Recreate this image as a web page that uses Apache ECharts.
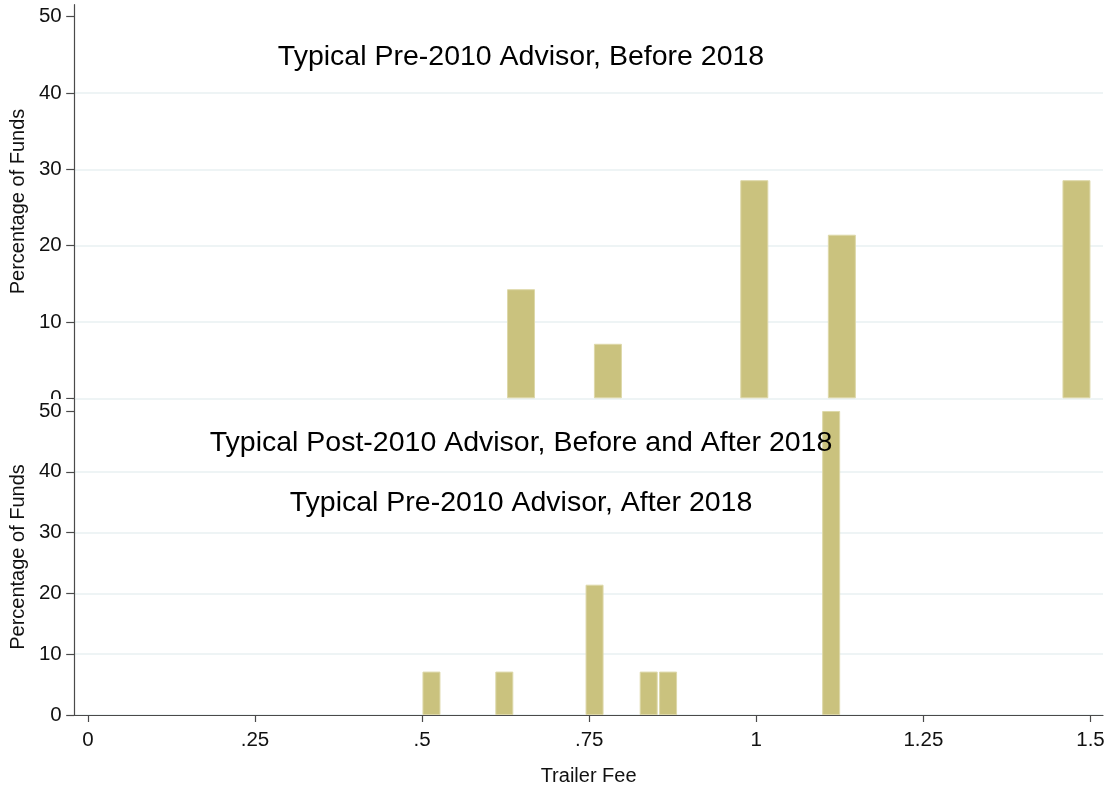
<!DOCTYPE html>
<html>
<head>
<meta charset="utf-8">
<script src="https://cdn.jsdelivr.net/npm/echarts@6/dist/echarts.min.js"></script>
<style>
  html, body { margin: 0; padding: 0; background: #fff; }
  #chart { width: 1110px; height: 791px; }
</style>
</head>
<body>
<div id="chart"></div>
<script>
// histogram bars: trailer fee (bin centre) and percentage of funds
const preBeforeFee = [0.648, 0.778, 0.997, 1.128, 1.479];
const preBeforePct = [14.29, 7.14, 28.57, 21.43, 28.57];

const afterFee = [0.514, 0.623, 0.758, 0.839, 0.868, 1.112];
const afterPct = [7.14, 7.14, 21.43, 7.14, 7.14, 50];

const yTicks = [0, 10, 20, 30, 40, 50];
const xTicks = [0, 0.25, 0.5, 0.75, 1, 1.25, 1.5];
const xTickLabels = ['0', '.25', '.5', '.75', '1', '1.25', '1.5'];

const topTitle = 'Typical Pre-2010 Advisor, Before 2018';
const bottomTitles = [
  'Typical Post-2010 Advisor, Before and After 2018',
  'Typical Pre-2010 Advisor, After 2018'
];

const FONT = '"Liberation Sans", Arial, sans-serif';
const BAR = '#cac27e';
const BAR_EDGE = '#ddd8a9';
const AXIS = '#4a4a4a';
const GRID = '#e9f0f2';

const chart = echarts.init(document.getElementById('chart'), null, { renderer: 'canvas' });

function yAxisFor(gridIndex, max, z) {
  return {
    type: 'value',
    gridIndex,
    min: 0,
    max,
    interval: 10,
    z,
    name: 'Percentage of Funds',
    nameLocation: 'middle',
    nameGap: 42,
    nameTextStyle: { fontFamily: FONT, fontSize: 20, color: '#111' },
    axisLine: { show: true, onZero: false, lineStyle: { color: AXIS, width: 1.2 } },
    axisTick: { show: true, length: 8, customValues: yTicks, lineStyle: { color: AXIS, width: 1.2 } },
    axisLabel: {
      customValues: yTicks,
      margin: 12.5,
      fontFamily: FONT,
      fontSize: 20.5,
      color: '#111'
    },
    splitLine: { show: true, showMaxLine: false, lineStyle: { color: GRID, width: 1.5 } }
  };
}

const xMin = -0.0205;
const xMax = 1.5187;

const option = {
  backgroundColor: '#fff',
  animation: false,
  grid: [
    { left: 73, right: 7, top: 4.7, bottom: 392.7 },
    { left: 73, right: 7, top: 399, bottom: 76 }
  ],
  xAxis: [
    {
      type: 'value',
      gridIndex: 0,
      min: xMin,
      max: xMax,
      show: false
    },
    {
      type: 'value',
      gridIndex: 1,
      min: xMin,
      max: xMax,
      z: 1.5,
      name: 'Trailer Fee',
      nameLocation: 'middle',
      nameGap: 51,
      nameTextStyle: { fontFamily: FONT, fontSize: 20, color: '#111' },
      axisLine: { show: true, onZero: false, lineStyle: { color: AXIS, width: 1.2 } },
      axisTick: { show: true, length: 7, customValues: xTicks, lineStyle: { color: AXIS, width: 1.2 } },
      axisLabel: {
        customValues: xTicks,
        margin: 15,
        fontFamily: FONT,
        fontSize: 20.5,
        color: '#111',
        formatter: v => xTickLabels[xTicks.indexOf(v)] ?? String(v)
      },
      splitLine: { show: false }
    }
  ],
  yAxis: [
    yAxisFor(0, 51.56, 0),
    yAxisFor(1, 51.97, 1.5)
  ],
  graphic: [
    // the lower panel covers the top panel's "0" label
    { type: 'rect', z: 1, shape: { x: 0, y: 399, width: 72, height: 12 }, style: { fill: '#fff' } },
    {
      type: 'text', z: 100, x: 521, y: 57,
      style: { text: topTitle, fontFamily: FONT, fontSize: 28.5, fill: '#000', align: 'center', verticalAlign: 'middle' }
    },
    {
      type: 'text', z: 100, x: 521, y: 443,
      style: { text: bottomTitles[0], fontFamily: FONT, fontSize: 28.5, fill: '#000', align: 'center', verticalAlign: 'middle' }
    },
    {
      type: 'text', z: 100, x: 521, y: 503,
      style: { text: bottomTitles[1], fontFamily: FONT, fontSize: 28.5, fill: '#000', align: 'center', verticalAlign: 'middle' }
    }
  ],
  series: [
    {
      type: 'bar',
      xAxisIndex: 0,
      yAxisIndex: 0,
      barWidth: 28,
      data: preBeforeFee.map((f, i) => [f, preBeforePct[i]]),
      itemStyle: { color: BAR, borderColor: BAR_EDGE, borderWidth: 1 }
    },
    {
      type: 'bar',
      xAxisIndex: 1,
      yAxisIndex: 1,
      barWidth: 18,
      data: afterFee.map((f, i) => [f, afterPct[i]]),
      itemStyle: { color: BAR, borderColor: BAR_EDGE, borderWidth: 1 }
    }
  ]
};

chart.setOption(option);
</script>
</body>
</html>
